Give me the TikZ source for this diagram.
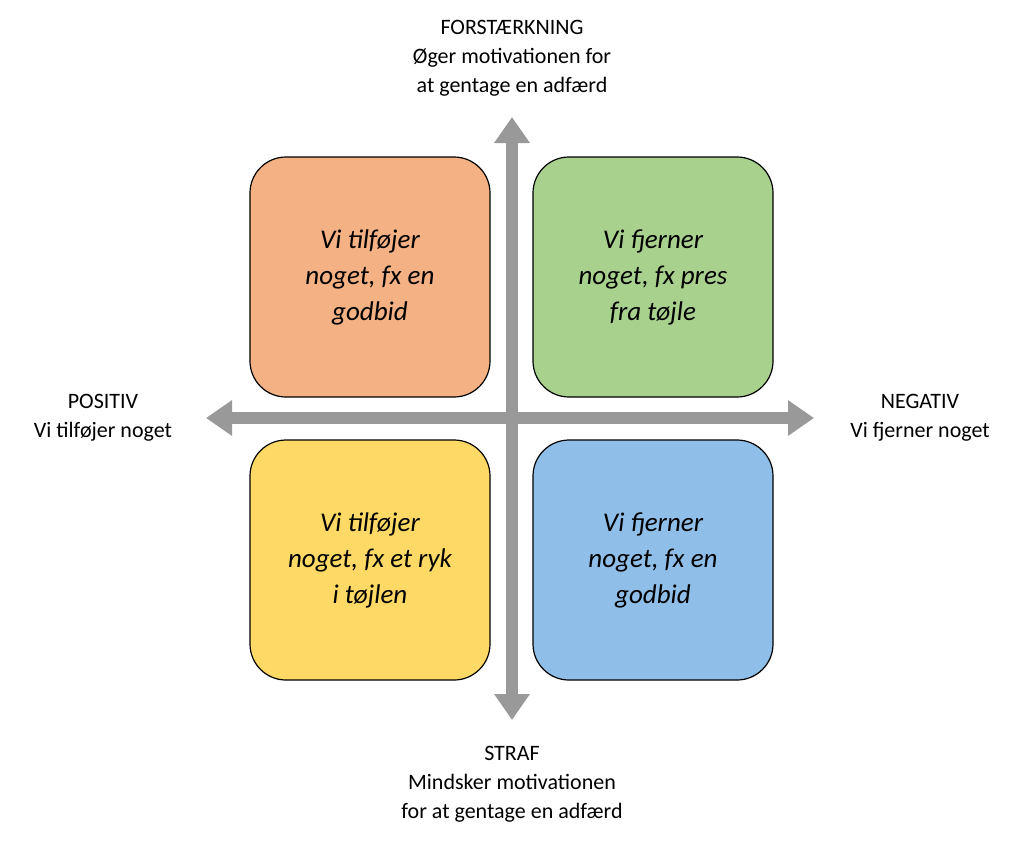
\documentclass[tikz,border=0pt]{standalone}
\usepackage{fontspec}
\setmainfont{Carlito}
\newfontfamily\boxfont{Comic Neue}[NFSSFamily=x]
\usetikzlibrary{arrows.meta}
\begin{document}
\begin{tikzpicture}[x=1pt,y=-1pt,
  quad/.style={draw=black,line width=1.2pt,rounded corners=36pt,minimum width=240pt,minimum height=240pt,inner sep=0pt,align=center,font=\fontsize{27}{36}\selectfont\itshape},
  axis/.style={draw=black!40,line width=12pt,-{Triangle[width=34pt,length=26pt]}},
  lab/.style={align=center,font=\fontsize{22}{29}\selectfont}]
\useasboundingbox (0,0) rectangle (1024,852);
\coordinate (c) at (512,418);
\coordinate (top) at (512,117);
\coordinate (bot) at (512,720);
\coordinate (lft) at (206,418);
\coordinate (rgt) at (814,418);
\draw[axis] (c) -- (top);
\draw[axis] (c) -- (bot);
\draw[axis] (c) -- (lft);
\draw[axis] (c) -- (rgt);
\node[quad,fill={rgb,255:red,244;green,177;blue,131}] (q1) at (370,277) {Vi tilføjer\\noget, fx en\\godbid};
\node[quad,fill={rgb,255:red,169;green,209;blue,142}] (q2) at (653,277) {Vi fjerner\\noget, fx pres\\fra tøjle};
\node[quad,fill={rgb,255:red,255;green,217;blue,102}] (q3) at (370,560) {Vi tilføjer\\noget, fx et ryk\\i tøjlen};
\node[quad,fill={rgb,255:red,143;green,191;blue,232}] (q4) at (653,560) {Vi fjerner\\noget, fx en\\godbid};
\node[lab] (lt) at (512,58) {FORSTÆRKNING\\Øger motivationen for\\at gentage en adfærd};
\node[lab] (lb) at (512,784) {STRAF\\Mindsker motivationen\\for at gentage en adfærd};
\node[lab] (ll) at (103,418) {POSITIV\\Vi tilføjer noget};
\node[lab] (lr) at (920,418) {NEGATIV\\Vi fjerner noget};
\end{tikzpicture}
\end{document}
